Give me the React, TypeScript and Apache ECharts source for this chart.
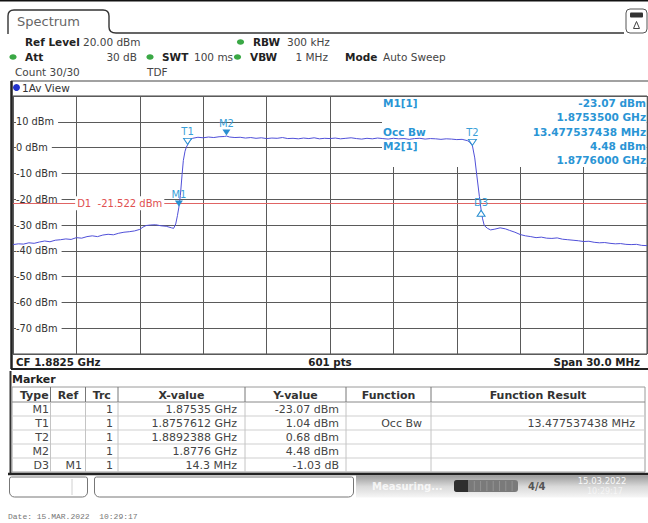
import React, { useEffect, useRef } from 'react';
import * as echarts from 'echarts';

// ---------- instrument settings ----------
const CENTER_FREQ_GHZ = 1.8825;
const SPAN_MHZ = 30;
const FREQ_DIV_MHZ = 3;
const REF_LEVEL_DBM = 20;
const BOTTOM_LEVEL_DBM = -80;
const LEVEL_DIV_DB = 10;
const D1_LEVEL_DBM = -21.522;
const D1_LABEL_FREQ_MHZ = 1872.55;

// ---------- trace ----------
const traceFreqMHz = [
  1867.5, 1867.75, 1868.0, 1868.25, 1868.5, 1868.75, 1869.0, 1869.25, 1869.5, 1869.75,
  1870.0, 1870.25, 1870.5, 1870.75, 1871.0, 1871.25, 1871.5, 1871.75, 1872.0, 1872.25,
  1872.5, 1872.75, 1873.0, 1873.25, 1873.5, 1873.65, 1873.8, 1874.0, 1874.25, 1874.5,
  1874.75, 1875.0, 1875.1, 1875.2, 1875.28, 1875.35, 1875.42, 1875.5, 1875.56, 1875.64,
  1875.7, 1875.76, 1875.85, 1876.0, 1876.25, 1876.5, 1876.75, 1877.0, 1877.25, 1877.5,
  1877.6, 1877.75, 1878.0, 1878.25, 1878.5, 1878.75, 1879.0, 1879.25, 1879.5, 1879.75,
  1880.0, 1880.25, 1880.5, 1880.75, 1881.0, 1881.25, 1881.5, 1881.75, 1882.0, 1882.25,
  1882.5, 1882.75, 1883.0, 1883.25, 1883.5, 1883.75, 1884.0, 1884.25, 1884.5, 1884.75,
  1885.0, 1885.25, 1885.5, 1885.75, 1886.0, 1886.25, 1886.5, 1886.75, 1887.0, 1887.25,
  1887.5, 1887.75, 1888.0, 1888.25, 1888.5, 1888.75, 1889.0, 1889.1, 1889.24, 1889.35,
  1889.45, 1889.57, 1889.65, 1889.72, 1889.8, 1889.95, 1890.1, 1890.3, 1890.55, 1890.8,
  1891.0, 1891.25, 1891.5, 1891.75, 1892.0, 1892.25, 1892.5, 1892.75, 1893.0, 1893.25,
  1893.5, 1893.75, 1894.0, 1894.25, 1894.5, 1894.75, 1895.0, 1895.25, 1895.5, 1895.75,
  1896.0, 1896.25, 1896.5, 1896.75, 1897.0, 1897.25, 1897.5,
];
const traceLevelDbm = [
  -37.6, -37.3, -37.4, -36.9, -37.1, -36.6, -36.2, -36.5, -35.9, -35.7,
  -35.4, -35.6, -34.9, -35.1, -34.5, -34.2, -34.5, -33.9, -33.6, -33.8,
  -33.2, -32.8, -32.6, -32.3, -31.7, -30.8, -30.2, -30.0, -29.9, -30.3,
  -30.5, -31.1, -31.3, -29.6, -26.4, -23.07, -18.5, -10.5, -5.0, -1.4,
  0.1, 1.04, 2.7, 3.6, 4.0, 3.8, 4.1, 3.9, 4.2, 4.3,
  4.48, 4.1, 3.9, 4.0, 3.7, 3.9, 3.6, 3.8, 3.5, 3.7,
  3.6, 3.9, 3.5, 3.6, 3.4, 3.7, 3.5, 3.8, 3.4, 3.6,
  3.5, 3.7, 3.4, 3.6, 3.8, 3.5, 3.3, 3.6, 3.4, 3.7,
  3.5, 3.3, 3.6, 3.4, 3.5, 3.2, 3.5, 3.6, 3.3, 3.5,
  3.4, 3.2, 3.4, 3.3, 3.1, 3.2, 2.7, 2.2, 0.68, -4.0,
  -11.0, -19.0, -24.1, -27.6, -30.2, -31.3, -31.9, -31.6, -31.1, -31.5,
  -32.1, -32.8, -33.7, -34.2, -34.5, -34.9, -34.7, -35.1, -35.2, -35.0,
  -35.5, -35.7, -35.9, -36.1, -36.4, -36.3, -36.7, -36.9, -36.8, -37.1,
  -37.3, -37.2, -37.5, -37.6, -37.5, -37.9, -38.0,
];

// ---------- markers ----------
const markerNames = ['M1', 'T1', 'M2', 'T2', 'D3'];
const markerFreqGHz = [1.87535, 1.8757612, 1.8776, 1.8892388, 1.88965];
const markerLevelDbm = [-23.07, 1.04, 4.48, 0.68, -24.1];
const markerHollow = [false, true, false, true, true];
const markerPointsUp = [false, false, false, false, true];

// ---------- marker info box ----------
const infoLeftLabels = ['M1[1]', '', 'Occ Bw', 'M2[1]', ''];
const infoRightValues = ['-23.07 dBm', '1.8753500 GHz', '13.477537438 MHz', '4.48 dBm', '1.8776000 GHz'];

// ---------- marker table ----------
const tableHeaders = ['Type', 'Ref', 'Trc', 'X-value', 'Y-value', 'Function', 'Function Result'];
const tableType = ['M1', 'T1', 'T2', 'M2', 'D3'];
const tableRef = ['', '', '', '', 'M1'];
const tableTrc = ['1', '1', '1', '1', '1'];
const tableX = ['1.87535 GHz', '1.8757612 GHz', '1.8892388 GHz', '1.8776 GHz', '14.3 MHz'];
const tableY = ['-23.07 dBm', '1.04 dBm', '0.68 dBm', '4.48 dBm', '-1.03 dB'];
const tableFunc = ['', 'Occ Bw', '', '', ''];
const tableResult = ['', '13.477537438 MHz', '', '', ''];

const FONT = '"DejaVu Sans", Verdana, sans-serif';
const MONO = '"Liberation Mono", "DejaVu Sans Mono", monospace';
const START_MHZ = CENTER_FREQ_GHZ * 1000 - SPAN_MHZ / 2;
const TRACE_COLOR = '#5050d8';
const MARK_COLOR = '#2a8fd0';
const MARK_TEXT = '#3a9fd8';
const INFO_COLOR = '#2a95d5';

echarts.graphic.registerShape(
  'rsTab',
  echarts.graphic.extendPath(
    'M8 34 L8 16 Q8 10 14 10 L103 10 Q109 10 109 16 L109 27 Q109 33 116 33 L624 33',
    {}
  )
);

type TOpts = { color?: string; bold?: boolean; size?: number; align?: string; family?: string; z?: number; opacity?: number };
const T = (text: string, x: number, y: number, o: TOpts = {}) => ({
  type: 'text',
  x,
  y,
  z: o.z ?? 10,
  silent: true,
  style: {
    text,
    fill: o.color ?? '#444',
    opacity: o.opacity ?? 1,
    font: `${o.bold ? 'bold ' : ''}${o.size ?? 10.5}px ${o.family ?? FONT}`,
    align: o.align ?? 'left',
    textAlign: o.align ?? 'left',
    verticalAlign: 'middle',
    textVerticalAlign: 'middle',
  },
});
const L = (x1: number, y1: number, x2: number, y2: number, stroke: string, lineWidth = 1, z = 10) => ({
  type: 'line',
  z,
  silent: true,
  shape: { x1, y1, x2, y2 },
  style: { stroke, lineWidth },
});
const R = (x: number, y: number, width: number, height: number, style: any, z = 10, r: any = 0) => ({
  type: 'rect',
  z,
  silent: true,
  shape: { x, y, width, height, r },
  style,
});
const dot = (cx: number, cy: number) => ({
  type: 'ellipse',
  z: 10,
  silent: true,
  shape: { cx, cy, rx: 3.6, ry: 2.8 },
  style: { fill: '#3aa845' },
});

function buildGraphics() {
  const g: any[] = [];
  // top border + tab
  g.push(R(0, 0, 648, 1.5, { fill: '#111' }));
  g.push({ type: 'rsTab', x: 0, y: 0, z: 10, silent: true, shape: {}, style: { fill: 'none', stroke: '#333', lineWidth: 1.4 } });
  g.push(T('Spectrum', 17, 21, { color: '#666', size: 13 }));
  // icon top right
  g.push(R(626, 9, 21, 24, { fill: '#fff', stroke: '#555', lineWidth: 1 }, 10, 4));
  g.push(R(630, 12.5, 13, 5, { fill: '#333' }, 11, 1));
  g.push({ type: 'polygon', z: 11, silent: true, shape: { points: [[633.5, 28.5], [636.5, 21.5], [639.5, 28.5]] }, style: { fill: 'none', stroke: '#444', lineWidth: 1 } });

  // header settings
  g.push(T('Ref Level', 25, 42, { bold: true, color: '#222' }));
  g.push(T('20.00 dBm', 83, 42));
  g.push(dot(240.5, 42));
  g.push(T('RBW', 253, 42, { bold: true, color: '#222' }));
  g.push(T('300 kHz', 287, 42));
  g.push(dot(13, 57));
  g.push(T('Att', 25, 57, { bold: true, color: '#222' }));
  g.push(T('30 dB', 137, 57, { align: 'right' }));
  g.push(dot(150, 57));
  g.push(T('SWT', 162, 57, { bold: true, color: '#222' }));
  g.push(T('100 ms', 194, 57));
  g.push(dot(237.5, 57));
  g.push(T('VBW', 250, 57, { bold: true, color: '#222' }));
  g.push(T('1 MHz', 328, 57, { align: 'right' }));
  g.push(T('Mode', 345, 57, { bold: true, color: '#222' }));
  g.push(T('Auto Sweep', 383, 57));
  g.push(T('Count 30/30', 15, 72));
  g.push(T('TDF', 147, 72));

  // view frame
  g.push(L(11, 81, 648, 81, '#444', 1.2));
  g.push(L(11.5, 81, 11.5, 369, '#222', 2.5));
  g.push({ type: 'circle', z: 10, silent: true, shape: { cx: 16.5, cy: 87.5, r: 3.5 }, style: { fill: '#2233cc' } });
  g.push(T('1Av View', 22, 88, { size: 10.5, color: '#333' }));
  // info box cover (hides grid behind marker readout)
  g.push(R(382, 97, 264.5, 70, { fill: '#fff' }, 1));
  for (let i = 0; i < infoRightValues.length; i++) {
    const y = 103 + i * 14.25;
    if (infoLeftLabels[i]) g.push(T(infoLeftLabels[i], 383, y, { bold: true, color: INFO_COLOR, size: 10.5 }));
    g.push(T(infoRightValues[i], 646, y, { bold: true, color: INFO_COLOR, size: 10.5, align: 'right' }));
  }
  // CF bar
  g.push(T('CF 1.8825 GHz', 16, 361.5, { bold: true, color: '#222', size: 10.3 }));
  g.push(T('601 pts', 330, 361.5, { bold: true, color: '#222', size: 10.3, align: 'center' }));
  g.push(T('Span 30.0 MHz', 640, 361.5, { bold: true, color: '#222', size: 10.3, align: 'right' }));
  g.push(L(11, 369, 648, 369, '#222', 2));

  // marker panel
  g.push(L(10.5, 371, 10.5, 474, '#333', 2));
  g.push(T('Marker', 12, 379, { bold: true, color: '#222', size: 11 }));
  const cols = [12, 50.5, 85.5, 118, 245, 346, 431, 645];
  const rowTop = 387;
  const headH = 15;
  const rowH = 14;
  const nRows = tableType.length;
  const tableBottom = rowTop + headH + nRows * rowH;
  g.push(R(cols[0], rowTop, cols[7] - cols[0], tableBottom - rowTop, { fill: '#fff', stroke: '#9a9a9a', lineWidth: 1 }));
  g.push(L(cols[0], rowTop + headH, cols[7], rowTop + headH, '#888', 1));
  for (let r = 1; r < nRows; r++) {
    const y = rowTop + headH + r * rowH;
    g.push(L(cols[0], y, cols[7], y, '#cfcfcf', 1));
  }
  for (let c = 1; c < cols.length - 1; c++) {
    g.push(L(cols[c], rowTop, cols[c], rowTop + headH, '#777', 1));
    g.push(L(cols[c], rowTop + headH, cols[c], tableBottom, '#c4c4c4', 1));
  }
  for (let c = 0; c < tableHeaders.length; c++) {
    g.push(T(tableHeaders[c], (cols[c] + cols[c + 1]) / 2 + (c === 0 ? 3 : 0), rowTop + headH / 2 + 0.5, { bold: true, color: '#333', size: 11 }));
    g[g.length - 1].style.align = 'center';
    g[g.length - 1].style.textAlign = 'center';
  }
  const rightEdges = [49, 82, 113, 237, 339, 422, 635];
  const colsData = [tableType, tableRef, tableTrc, tableX, tableY, tableFunc, tableResult];
  for (let r = 0; r < nRows; r++) {
    const y = rowTop + headH + r * rowH + rowH / 2 + 0.5;
    for (let c = 0; c < colsData.length; c++) {
      const txt = colsData[c][r];
      if (txt) g.push(T(txt, rightEdges[c], y, { align: 'right', color: '#444', size: 11 }));
    }
  }
  g.push(L(8, 474, 648, 474, '#222', 2.5));

  // status bar
  g.push(R(9.5, 477, 78, 20, { fill: '#fff', stroke: '#777', lineWidth: 1 }, 10, [2, 2, 5, 5]));
  g.push(L(72, 479, 72, 495, '#d0d0d0', 1));
  g.push(R(94.5, 477, 259, 20, { fill: '#fff', stroke: '#777', lineWidth: 1 }, 10, [2, 2, 5, 5]));
  g.push(R(356, 475.5, 292, 22, {
    fill: new echarts.graphic.LinearGradient(0, 0, 0, 1, [
      { offset: 0, color: '#9c9c9c' },
      { offset: 0.5, color: '#d9d9d9' },
      { offset: 1, color: '#f6f6f6' },
    ]),
  }, 9));
  g.push(T('Measuring...', 372, 486, { color: '#ffffff', size: 10, bold: true, opacity: 0.8 }));
  g.push(R(454, 480, 64, 12, { fill: '#7a7a7a' }, 10, 3));
  g.push(R(454, 480, 14, 12, { fill: '#2e2e2e' }, 11, [3, 0, 0, 3]));
  for (let i = 1; i < 8; i++) g.push(L(468 + i * 6.3, 481, 468 + i * 6.3, 491, '#999', 0.8, 11));
  g.push(T('4/4', 528, 486, { color: '#555', size: 10, bold: true }));
  g.push(T('15.03.2022', 602, 481, { color: '#ffffff', size: 8.5, align: 'center', opacity: 0.9 }));
  g.push(T('10:29:17', 605, 491, { color: '#ffffff', size: 8, align: 'center', opacity: 0.6 }));

  // date footer
  g.push(T('Date: 15.MAR.2022  10:29:17', 8, 516, { family: MONO, size: 8, color: '#777' }));
  return g;
}

function buildOption() {
  const data = traceFreqMHz.map((f, i) => [f - START_MHZ, traceLevelDbm[i]]);
  const markData: any[] = markerNames.map((name, i) => {
    const up = markerPointsUp[i];
    return {
      name,
      coord: [markerFreqGHz[i] * 1000 - START_MHZ, markerLevelDbm[i]],
      symbol: 'triangle',
      symbolRotate: up ? 0 : 180,
      symbolSize: [8, 6],
      symbolOffset: [0, up ? 3.5 : -3.5],
      itemStyle: markerHollow[i]
        ? { color: '#ffffff', borderColor: MARK_COLOR, borderWidth: 1 }
        : { color: MARK_COLOR, borderWidth: 0 },
      label: {
        show: true,
        formatter: name,
        position: 'top',
        distance: up ? 2 : 1.5,
        color: MARK_TEXT,
        fontSize: 10,
        fontFamily: FONT,
      },
    };
  });
  markData.push({
    name: 'D1',
    coord: [D1_LABEL_FREQ_MHZ - START_MHZ, D1_LEVEL_DBM],
    symbol: 'rect',
    symbolSize: [1, 1],
    itemStyle: { color: 'rgba(0,0,0,0)' },
    label: {
      show: true,
      position: 'inside',
      formatter: 'D1  -21.522 dBm',
      color: '#e05050',
      fontSize: 10,
      fontFamily: FONT,
      backgroundColor: '#ffffff',
      padding: [2, 2, 2, 2],
    },
  });

  return {
    animation: false,
    backgroundColor: '#ffffff',
    graphic: { elements: buildGraphics() },
    grid: { left: 13, top: 96, width: 634, height: 258, show: true, borderColor: '#444', borderWidth: 1, backgroundColor: '#fff' },
    xAxis: {
      type: 'value',
      min: 0,
      max: SPAN_MHZ,
      interval: FREQ_DIV_MHZ,
      axisLine: { show: false },
      axisTick: { show: false },
      axisLabel: { show: false },
      splitLine: { show: true, lineStyle: { color: '#5a5a5a', width: 1 } },
    },
    yAxis: [
      {
        type: 'value',
        min: BOTTOM_LEVEL_DBM,
        max: REF_LEVEL_DBM,
        interval: LEVEL_DIV_DB,
        axisLine: { show: false },
        axisTick: { show: false },
        axisLabel: { show: false },
        splitLine: { show: true, lineStyle: { color: '#5a5a5a', width: 1 } },
      },
      {
        type: 'value',
        position: 'left',
        z: 1,
        min: BOTTOM_LEVEL_DBM,
        max: REF_LEVEL_DBM,
        interval: LEVEL_DIV_DB,
        axisLine: { show: false },
        axisTick: { show: false },
        splitLine: { show: false },
        axisLabel: {
          inside: true,
          margin: 3,
          showMinLabel: false,
          showMaxLabel: false,
          color: '#333',
          fontSize: 9.8,
          fontFamily: FONT,
          backgroundColor: '#ffffff',
          padding: [1, 4, 1, 0],
          formatter: (v: number) => (v === REF_LEVEL_DBM || v === BOTTOM_LEVEL_DBM ? '' : `${v} dBm`),
        },
      },
    ],
    series: [
      {
        type: 'line',
        yAxisIndex: 0,
        data,
        symbol: 'none',
        silent: true,
        lineStyle: { color: TRACE_COLOR, width: 1 },
        markLine: {
          silent: true,
          symbol: ['none', 'none'],
          label: { show: false },
          lineStyle: { color: '#e06464', width: 1, type: 'solid' },
          data: [{ yAxis: D1_LEVEL_DBM }],
        },
        markPoint: { silent: true, data: markData },
      },
    ],
  };
}

export default function App() {
  const ref = useRef<HTMLDivElement>(null);
  useEffect(() => {
    if (!ref.current) return;
    const chart = echarts.init(ref.current, undefined, { renderer: 'svg' });
    chart.setOption(buildOption() as any);
    return () => chart.dispose();
  }, []);
  return <div ref={ref} style={{ position: 'fixed', left: 0, top: 0, width: 648, height: 523 }} />;
}
